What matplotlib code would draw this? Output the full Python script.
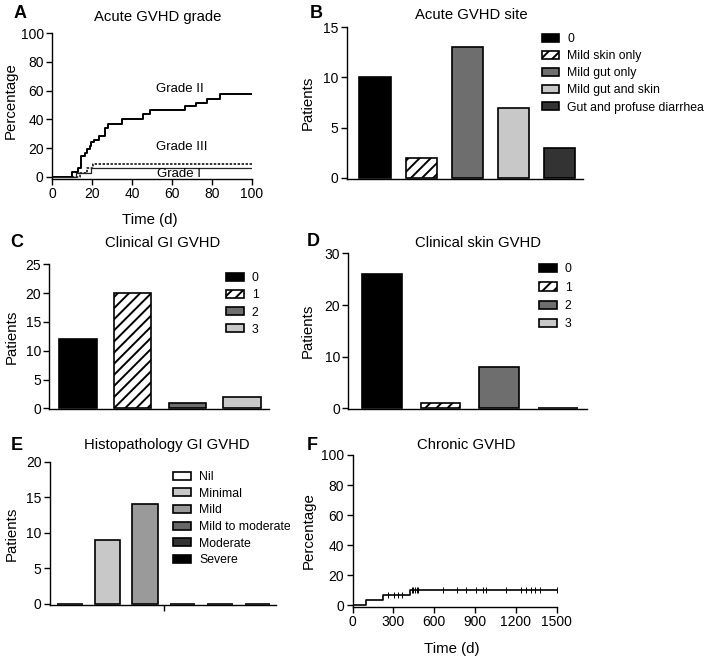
import numpy as np
import matplotlib
matplotlib.use('Agg')
import matplotlib.pyplot as plt

plt.rcParams['font.family'] = ['Liberation Sans', 'DejaVu Sans']
plt.rcParams['hatch.linewidth'] = 1.4
plt.rcParams['axes.linewidth'] = 1.0

# --- A: acute GVHD grade (cumulative incidence, %)
grade2_t = [0, 10.1, 12.9, 14.25, 16.25, 17.6, 18.75, 19.6, 20.9, 23.4, 26.25,
            27.9, 34.9, 45.4, 48.75, 66.25, 72.1, 77.4, 84.1, 100]
grade2_v = [0, 3.3, 6.5, 14.7, 17.0, 19.3, 21.7, 24.0, 25.6, 28.7, 33.8,
            36.8, 40.3, 43.4, 46.2, 49.0, 51.3, 54.3, 57.3, 57.3]
grade3_t = [0, 14.0, 17.5, 20.4, 100]
grade3_v = [0, 2.9, 5.9, 8.9, 8.9]
grade1_t = [0, 12.0, 19.6, 100]
grade1_v = [0, 3.0, 6.1, 6.1]

# --- B: acute GVHD site
site_labels = ['0', 'Mild skin only', 'Mild gut only', 'Mild gut and skin',
               'Gut and profuse diarrhea']
site_counts = [10, 2, 13, 7, 3]

# --- C: clinical GI GVHD
gi_labels = ['0', '1', '2', '3']
gi_counts = [12, 20, 1, 2]

# --- D: clinical skin GVHD
skin_labels = ['0', '1', '2', '3']
skin_counts = [26, 1, 8, 0]

# --- E: histopathology GI GVHD
histo_labels = ['Nil', 'Minimal', 'Mild', 'Mild to moderate', 'Moderate', 'Severe']
histo_counts = [0, 9, 14, 0, 0, 0]

# --- F: chronic GVHD
chronic_t = [0, 99, 226, 423, 1500]
chronic_v = [0, 3.2, 6.5, 9.7, 9.7]
chronic_censor = [263, 305, 337, 361, 435, 447, 459, 471, 484, 663, 770, 835,
                  908, 957, 982, 1126, 1237, 1273, 1310, 1342, 1379, 1500]

W, H = 714, 656
TICK_FS = 10
LABEL_FS = 10.8
TITLE_FS = 10.7
LEG_FS = 8.8

fig = plt.figure(figsize=(W / 100, H / 100), dpi=100)


def add_ax(left, right, bottom, top):
    """axes from pixel box"""
    ax = fig.add_axes([left / W, 1 - bottom / H, (right - left) / W, (bottom - top) / H])
    for s in ['top', 'right']:
        ax.spines[s].set_visible(False)
    ax.tick_params(labelsize=TICK_FS, length=4, width=1, pad=2)
    return ax


def fig_label(x, y, txt, **kw):
    fig.text(x / W, 1 - y / H, txt, ha='center', va='center', **kw)


def bar_panel(ax, counts, labels, colors, hatches, ylim, yticks, xlim, legend_xy, spacing):
    x = np.arange(len(counts))
    for i in range(len(counts)):
        ax.bar(x[i], counts[i], width=0.68, color=colors[i], edgecolor='black',
               hatch=hatches[i], linewidth=1.2, label=labels[i])
    ax.set_xlim(*xlim)
    ax.set_ylim(*ylim)
    ax.set_yticks(yticks)
    ax.set_xticks([])
    ax.set_ylabel('Patients', fontsize=LABEL_FS)
    ax.legend(loc='upper left', bbox_to_anchor=legend_xy, frameon=False, fontsize=LEG_FS,
              borderpad=0, borderaxespad=0, handlelength=1.45, handleheight=0.65,
              handletextpad=0.65, labelspacing=spacing)


# A
axA = add_ax(52, 252, 179, 33)
axA.step(grade2_t, grade2_v, where='post', color='black', lw=1.4)
axA.step(grade3_t, grade3_v, where='post', color='black', lw=1.1, ls=(0, (1.6, 1.0)))
axA.step(grade1_t, grade1_v, where='post', color='#222222', lw=0.9)
axA.set_xlim(0, 100)
axA.set_ylim(-1.4, 100)
axA.set_xticks(np.arange(0, 101, 20))
axA.set_yticks(np.arange(0, 101, 20))
axA.set_ylabel('Percentage', fontsize=LABEL_FS)
axA.set_xlabel('Time (d)', fontsize=LABEL_FS)
axA.yaxis.set_label_coords(-0.17, 0.54)
axA.xaxis.set_label_coords(0.49, -0.233)
axA.text(64, 61, 'Grade II', fontsize=9.5, ha='center', va='center')
axA.text(65, 21, 'Grade III', fontsize=9.5, ha='center', va='center')
axA.text(63.5, 2.3, 'Grade I', fontsize=9.5, ha='center', va='center')

# B
axB = add_ax(347, 583, 179, 27)
bar_panel(axB, site_counts, site_labels,
          ['black', 'white', '#6e6e6e', '#c8c8c8', '#333333'],
          ['', '///', '', '', ''], (-0.1, 15), [0, 5, 10, 15], (-0.61, 4.51),
          (0.825, 0.96), 0.42)
axB.yaxis.set_label_coords(-0.136, 0.5)

# C
axC = add_ax(49.3, 269.3, 409, 264.3)
bar_panel(axC, gi_counts, gi_labels,
          ['black', 'white', '#6e6e6e', '#c8c8c8'],
          ['', '///', '', ''], (-0.1, 25), [0, 5, 10, 15, 20, 25], (-0.525, 3.5),
          (0.803, 0.945), 0.42)
axC.yaxis.set_label_coords(-0.141, 0.5)

# D
axD = add_ax(348.3, 586.7, 409, 253.3)
bar_panel(axD, skin_counts, skin_labels,
          ['black', 'white', '#6e6e6e', '#c8c8c8'],
          ['', '///', '', ''], (-0.1, 30), [0, 10, 20, 30], (-0.57, 3.49),
          (0.801, 0.935), 0.52)
axD.yaxis.set_label_coords(-0.14, 0.5)

# E
axE = add_ax(50, 276, 605, 461.7)
bar_panel(axE, histo_counts, histo_labels,
          ['white', '#c8c8c8', '#9a9a9a', '#666666', '#333333', 'black'],
          [''] * 6, (-0.15, 20), [0, 5, 10, 15, 20], (-0.53, 5.49),
          (0.546, 0.935), 0.38)
axE.set_xticks([2.5])
axE.set_xticklabels([''])
axE.yaxis.set_label_coords(-0.14, 0.5)

# F
axF = add_ax(352.5, 556.7, 606.7, 455)
axF.step(chronic_t, chronic_v, where='post', color='black', lw=1.2)
idx = np.searchsorted(chronic_t, chronic_censor, side='right') - 1
axF.plot(chronic_censor, np.array(chronic_v)[idx], ls='none', marker='|',
         color='black', ms=5, mew=0.7)
axF.set_xlim(0, 1500)
axF.set_ylim(-1.1, 100)
axF.set_xticks(np.arange(0, 1501, 300))
axF.set_yticks(np.arange(0, 101, 20))
axF.set_ylabel('Percentage', fontsize=LABEL_FS)
axF.set_xlabel('Time (d)', fontsize=LABEL_FS)
axF.yaxis.set_label_coords(-0.18, 0.5)
axF.xaxis.set_label_coords(0.486, -0.235)

# titles and panel letters
fig_label(158, 17, 'Acute GVHD grade', fontsize=TITLE_FS)
fig_label(471.7, 15, 'Acute GVHD site', fontsize=TITLE_FS)
fig_label(163, 243, 'Clinical GI GVHD', fontsize=TITLE_FS)
fig_label(478.3, 243, 'Clinical skin GVHD', fontsize=TITLE_FS)
fig_label(166.7, 445, 'Histopathology GI GVHD', fontsize=TITLE_FS)
fig_label(466.7, 445, 'Chronic GVHD', fontsize=TITLE_FS)
for (px, py, t) in [(20, 14, 'A'), (316, 14, 'B'), (17, 243, 'C'), (313, 242, 'D'),
                    (17, 445, 'E'), (312, 445, 'F')]:
    fig_label(px, py, t, fontsize=13, fontweight='heavy')

fig.savefig('out.png', dpi=100)
